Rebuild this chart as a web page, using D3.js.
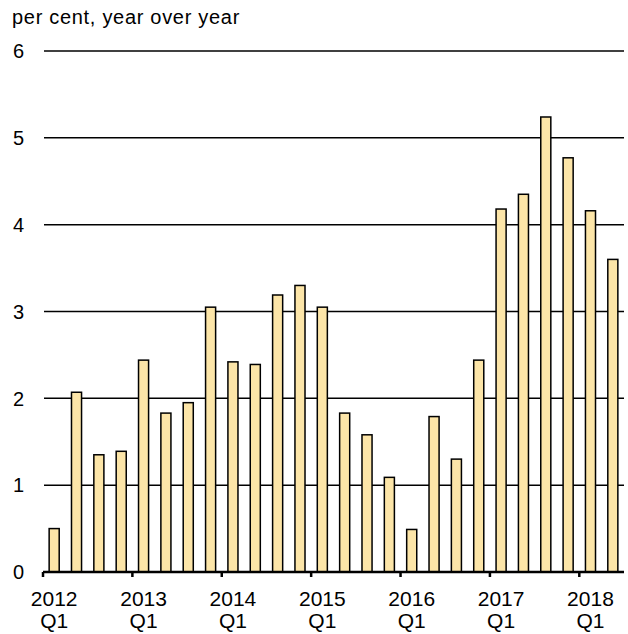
<!DOCTYPE html>
<html>
<head>
<meta charset="utf-8">
<script src="https://cdn.jsdelivr.net/npm/d3@7"></script>
<style>
  body { margin: 0; background: #fff; }
  svg text { font-family: "Liberation Sans", Arial, sans-serif; fill: #000; }
</style>
</head>
<body>
<div id="chart"></div>
<script>
// quarterly data, 2012Q1 .. 2018Q2
const years = [2012, 2013, 2014, 2015, 2016, 2017, 2018];
const quarters = ["Q1", "Q2", "Q3", "Q4"];
const values = [
    0.50, 2.07, 1.35, 1.39,
    2.44, 1.83, 1.95, 3.05,
    2.42, 2.39, 3.19, 3.30,
    3.05, 1.83, 1.58, 1.09,
    0.49, 1.79, 1.30, 2.44,
    4.18, 4.35, 5.24, 4.77,
    4.16, 3.60
];
const yTicks = [0, 1, 2, 3, 4, 5, 6];
const title = "per cent, year over year";

const periods = values.map((v, i) => years[Math.floor(i / 4)] + quarters[i % 4]);

const W = 628, H = 634;
const margin = { top: 51, right: 4, bottom: 62, left: 43 };
const width = W - margin.left - margin.right,
    height = H - margin.top - margin.bottom;

const svg = d3.select("#chart")
    .append("svg")
    .attr("width", W)
    .attr("height", H);

svg.append("text")
    .attr("x", 12)
    .attr("y", 24)
    .style("font-size", "20px")
    .style("letter-spacing", "0.7px")
    .text(title);

const g = svg.append("g")
    .attr("transform", `translate(${margin.left},${margin.top})`);

const x = d3.scaleBand()
    .domain(periods)
    .range([0, width])
    .paddingInner(0.55)
    .paddingOuter(0.275);

const y = d3.scaleLinear()
    .domain([0, 6])
    .range([height, 0]);

// gridlines
g.selectAll("line.grid")
    .data(yTicks.filter(d => d > 0))
    .join("line")
    .attr("class", "grid")
    .attr("x1", 1)
    .attr("x2", width)
    .attr("y1", d => y(d))
    .attr("y2", d => y(d))
    .attr("stroke", "#000")
    .attr("stroke-width", 1.5);

// y labels
g.selectAll("text.ylab")
    .data(yTicks)
    .join("text")
    .attr("class", "ylab")
    .attr("x", -19)
    .attr("y", d => y(d))
    .attr("dy", "0.36em")
    .attr("text-anchor", "end")
    .style("font-size", "20px")
    .text(d => d);

// bars
g.selectAll("rect")
    .data(values)
    .join("rect")
    .attr("x", (d, i) => x(periods[i]))
    .attr("y", d => y(d))
    .attr("width", x.bandwidth())
    .attr("height", d => y(0) - y(d))
    .attr("fill", "#fce5a8")
    .attr("stroke", "#000")
    .attr("stroke-width", 1.5);

// zero axis
g.append("line")
    .attr("x1", 0)
    .attr("x2", width)
    .attr("y1", y(0))
    .attr("y2", y(0))
    .attr("stroke", "#000")
    .attr("stroke-width", 2.5);

// year tick marks at year boundaries
const step = x.step();
g.selectAll("line.tick")
    .data(years)
    .join("line")
    .attr("class", "tick")
    .attr("x1", yr => x(yr + "Q1") - (step - x.bandwidth()) / 2)
    .attr("x2", yr => x(yr + "Q1") - (step - x.bandwidth()) / 2)
    .attr("y1", y(0))
    .attr("y2", y(0) + 5)
    .attr("stroke", "#000")
    .attr("stroke-width", 2.5);

// x labels
const xl = g.selectAll("text.xlab")
    .data(years)
    .join("text")
    .attr("class", "xlab")
    .attr("text-anchor", "middle")
    .style("font-size", "21px")
    .attr("transform", yr => `translate(${x(yr + "Q1") + x.bandwidth() / 2},${y(0) + 34})`);
xl.append("tspan").attr("x", 0).attr("y", 0).text(yr => yr);
xl.append("tspan").attr("x", 0).attr("y", 22).text("Q1");
</script>
</body>
</html>
